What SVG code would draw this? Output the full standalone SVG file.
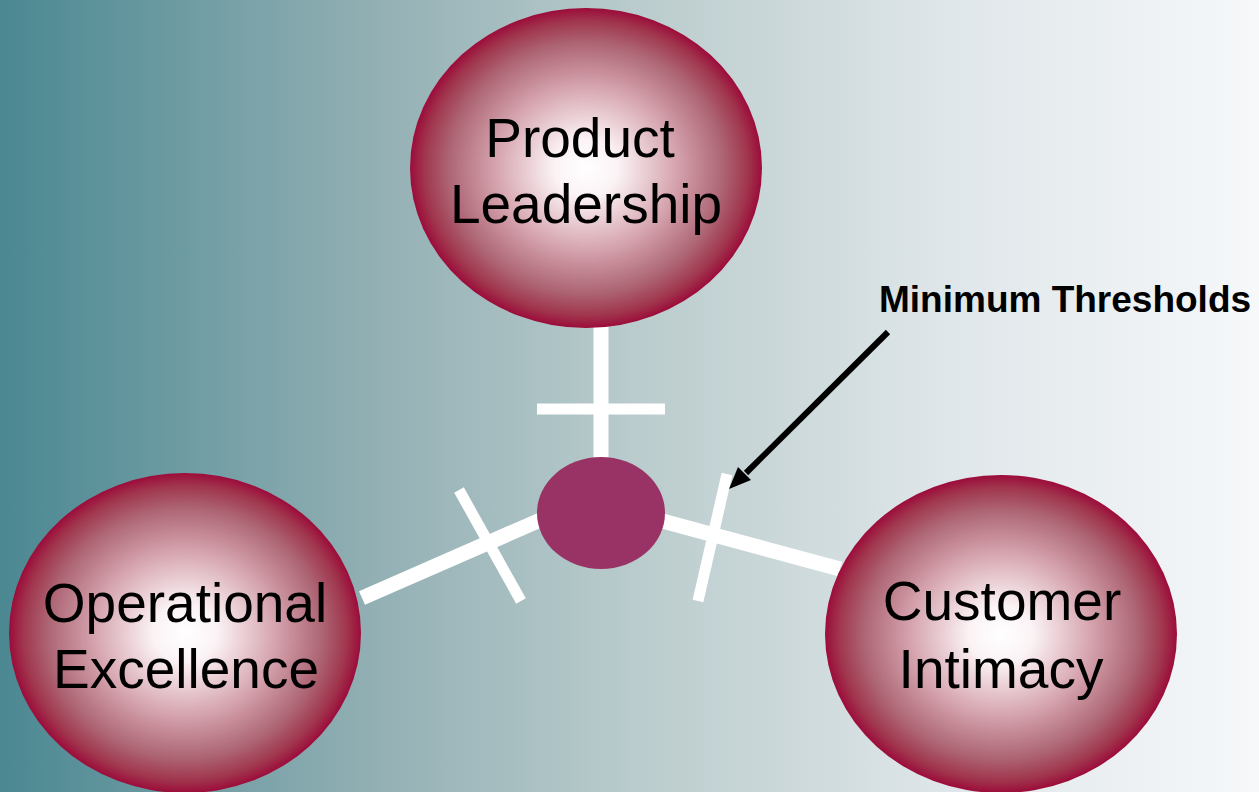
<svg xmlns="http://www.w3.org/2000/svg" width="1259" height="792" viewBox="0 0 1259 792">
  <defs>
    <linearGradient id="bg" x1="0" y1="0" x2="1" y2="0">
      <stop offset="0" stop-color="#4b8892"/>
      <stop offset="0.3" stop-color="#93b0b4"/>
      <stop offset="0.5" stop-color="#b9cbcc"/>
      <stop offset="0.75" stop-color="#dfe6e9"/>
      <stop offset="1" stop-color="#f6f8fa"/>
    </linearGradient>
    <radialGradient id="ball" cx="0.5" cy="0.5" r="0.5">
      <stop offset="0" stop-color="#ffffff"/>
      <stop offset="0.18" stop-color="#fbf3f5"/>
      <stop offset="0.5" stop-color="#d7a7b1"/>
      <stop offset="0.78" stop-color="#ad6574"/>
      <stop offset="0.92" stop-color="#a0364e"/>
      <stop offset="1" stop-color="#9c0c3a"/>
    </radialGradient>
    <style>
      .node { fill: url(#ball); }
      .lbl { font-family: "Liberation Sans", Arial, sans-serif; font-size: 55px; fill: #000; text-anchor: middle; }
      .bar { stroke: #fff; stroke-width: 15; fill: none; }
      .tick { stroke: #fff; stroke-width: 11; fill: none; }
      .note { font-family: "Liberation Sans", Arial, sans-serif; font-size: 37px; font-weight: bold; fill: #000; }
    </style>
  </defs>
  <rect x="0" y="0" width="1259" height="792" fill="url(#bg)"/>

  <g id="connectors">
    <line class="bar" x1="601" y1="320" x2="601" y2="470"/>
    <line class="tick" x1="537" y1="409" x2="665" y2="409"/>
    <line class="bar" x1="362" y1="598" x2="545" y2="518"/>
    <line class="tick" x1="459" y1="490" x2="521" y2="601"/>
    <line class="bar" x1="655" y1="519" x2="840" y2="569"/>
    <line class="tick" x1="727" y1="474" x2="698" y2="601"/>
    <line x1="888" y1="332" x2="746" y2="473" stroke="#000" stroke-width="6"/>
    <polygon points="729,489 751,480 738,467" fill="#000"/>
  </g>

  <g id="center">
    <ellipse cx="601" cy="513" rx="64" ry="56" fill="#993366"/>
  </g>

  <g id="product-leadership">
    <ellipse class="node" cx="586" cy="168" rx="176" ry="160"/>
    <text class="lbl" x="580" y="157">Product</text>
    <text class="lbl" x="586" y="223">Leadership</text>
  </g>

  <g id="operational-excellence">
    <ellipse class="node" cx="185" cy="633" rx="176" ry="160"/>
    <text class="lbl" x="185" y="622">Operational</text>
    <text class="lbl" x="186" y="688">Excellence</text>
  </g>

  <g id="customer-intimacy">
    <ellipse class="node" cx="1001" cy="634" rx="176" ry="159"/>
    <text class="lbl" x="1002" y="620">Customer</text>
    <text class="lbl" x="1001" y="688">Intimacy</text>
  </g>

  <g id="minimum-thresholds">
    <text class="note" x="879" y="312">Minimum Thresholds</text>
  </g>
</svg>
